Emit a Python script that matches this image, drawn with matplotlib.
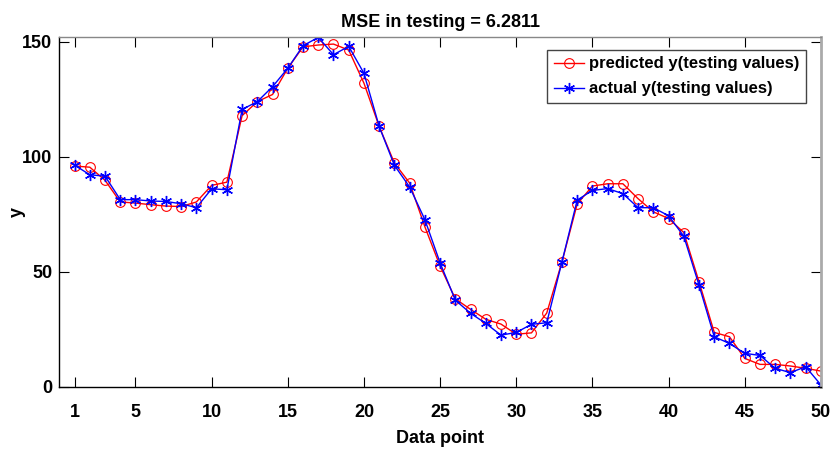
import matplotlib.pyplot as plt
import numpy as np

plt.rcParams['font.family'] = ['Liberation Sans Narrow', 'Liberation Sans', 'DejaVu Sans']
plt.rcParams['font.weight'] = 'bold'

# data
x = np.arange(1, 51)
predicted = [96, 95.5, 89.8, 80.4, 79.9, 79.2, 78.6, 78.4, 80.4, 87.6,
             89.0, 117.9, 124.0, 127.1, 138.5, 147.8, 148.6, 149.0, 146.4, 132.0,
             113.2, 97.3, 88.6, 69.6, 52.5, 38.3, 33.7, 29.4, 27.3, 22.9,
             23.5, 32.1, 54.3, 79.5, 87.3, 88.3, 88.3, 81.8, 76.1, 73.2,
             67.1, 45.7, 23.7, 21.8, 12.4, 9.8, 9.8, 9.1, 8.1, 6.9]
actual = [96.4, 92.2, 91.6, 81.4, 81.4, 80.8, 80.6, 79.6, 77.9, 86.1,
          85.7, 120.6, 124.0, 130.5, 138.5, 148.3, 151.9, 144.4, 148.0, 136.3,
          113.2, 96.3, 86.9, 72.7, 53.9, 37.7, 32.0, 27.6, 22.5, 23.7,
          27.2, 27.9, 54.3, 81.2, 85.4, 86.2, 84.0, 77.9, 77.9, 74.4,
          65.5, 44.2, 21.8, 18.9, 14.6, 13.7, 8.1, 6.2, 8.8, 0.9]
mse = 6.2811
xticks = [1, 5, 10, 15, 20, 25, 30, 35, 40, 45, 50]
yticks = [0, 50, 100, 150]

fig = plt.figure(figsize=(8.3, 4.59), dpi=100)
ax = fig.add_axes([0.0715, 0.157, 0.9175, 0.762])

ax.plot(x, predicted, '-o', color='red', lw=1, ms=7, mfc='none', mew=0.8,
        label='predicted y(testing values)')
ax.plot(x, actual, '-', marker=(6, 2, 0), color='blue', lw=1, ms=8, mew=1.0,
        label='actual y(testing values)')

ax.set_xlim(0, 50)
ax.set_ylim(0, 152)
ax.set_xticks(xticks)
ax.set_yticks(yticks)
ax.tick_params(direction='in', top=True, right=True, labelsize=13, length=7, width=0.8, pad=5)
ax.tick_params(axis='x', pad=12)
for lab in ax.get_xticklabels() + ax.get_yticklabels():
    lab.set_fontweight('bold')
for s in ax.spines.values():
    s.set_linewidth(1)
ax.spines['top'].set_color('#888888')
ax.spines['right'].set_color('#aaaaaa')
ax.spines['right'].set_linewidth(2)

ax.set_title('MSE in testing = %.4f' % mse, fontsize=13, fontweight='bold', pad=7)
ax.set_xlabel('Data point', fontsize=13, fontweight='bold', labelpad=7)
ax.set_ylabel('y', fontsize=13, fontweight='bold')
ax.yaxis.set_label_coords(-0.044, 0.5)

leg = ax.legend(loc='upper right', fontsize=12, fancybox=False, framealpha=1,
                edgecolor='#444444', borderpad=0.4, handlelength=1.8,
                handletextpad=0.3, labelspacing=0.6, borderaxespad=0,
                bbox_to_anchor=(0.98, 0.964))
for t in leg.get_texts():
    t.set_fontweight('bold')

fig.savefig('out.png', dpi=100)
